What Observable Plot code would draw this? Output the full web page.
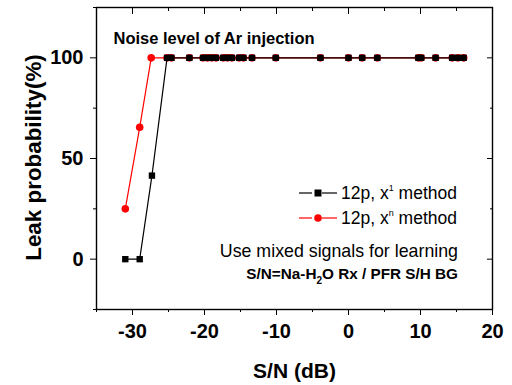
<!DOCTYPE html>
<html>
<head>
<meta charset="utf-8">
<script src="https://cdn.jsdelivr.net/npm/d3@7"></script>
<script src="https://cdn.jsdelivr.net/npm/@observablehq/plot@0.6"></script>
<style>
  html, body { margin: 0; padding: 0; background: #fff; }
  #wrap { position: relative; width: 512px; height: 385px; font-family: "Liberation Sans", Arial, sans-serif; }
  #wrap svg { display: block; }
  .ov { position: absolute; white-space: nowrap; color: #000; line-height: 1; }
</style>
</head>
<body>
<div id="wrap"></div>
<script>
// ---- data ----
const xBlack = [-31, -29, -27.3, -25.2, -24.6, -22.1, -20.2, -19.6, -19.0, -18.4, -17.4, -16.8, -16.2, -15.2, -14.6, -13.4, -10.1, -3.9, 0, 1.9, 4, 9.7, 10.1, 12.1, 14.4, 15.2, 16.0];
const yBlack = [0, 0, 41.5, 100, 100, 100, 100, 100, 100, 100, 100, 100, 100, 100, 100, 100, 100, 100, 100, 100, 100, 100, 100, 100, 100, 100, 100];
const xRed = [-31, -29, -27.4, -25.2, -24.6, -22.1, -20.2, -19.6, -19.0, -18.4, -17.4, -16.8, -16.2, -15.2, -14.6, -13.4, -10.1, -3.9, 0, 1.9, 4, 9.7, 10.1, 12.1, 14.4, 15.2, 16.0];
const yRed = [25, 65.5, 100, 100, 100, 100, 100, 100, 100, 100, 100, 100, 100, 100, 100, 100, 100, 100, 100, 100, 100, 100, 100, 100, 100, 100, 100];
const xMajor = [-30, -20, -10, 0, 10, 20];
const xMinor = [-35, -25, -15, -5, 5, 15];
const yMajor = [0, 50, 100];
const yMinor = [-25, 25, 75, 125];
const seriesNames = ["12p, x", "12p, x"];
const seriesSup = ["1", "n"];
const titleText = "Noise level of Ar injection";
const note1 = "Use mixed signals for learning";

const black = xBlack.map((x, i) => ({x, y: yBlack[i]}));
const red = xRed.map((x, i) => ({x, y: yRed[i]}));

const font = '"Liberation Sans", Arial, sans-serif';

const chart = Plot.plot({
  width: 512,
  height: 385,
  marginLeft: 96,
  marginRight: 20,
  marginTop: 7,
  marginBottom: 76,
  style: {fontFamily: font, background: "#fff", color: "#000", overflow: "visible"},
  x: {domain: [-35, 20]},
  y: {domain: [-25, 125]},
  marks: [
    Plot.line(red, {x: "x", y: "y", stroke: "#ff0000", strokeWidth: 1.2}),
    Plot.dot(red, {x: "x", y: "y", r: 3.8, fill: "#ff0000", stroke: "none"}),
    Plot.line(black, {x: "x", y: "y", stroke: "#000", strokeWidth: 1.2}),
    Plot.dot(black, {x: "x", y: "y", symbol: "square", r: 3.6, fill: "#000", stroke: "none"}),
    // bottom axis
    Plot.axisX({anchor: "bottom", ticks: xMajor, tickSize: 6, tickPadding: 8, label: null,
      fontSize: 20, fontWeight: "bold", tickFormat: d => String(d)}),
    Plot.axisX({anchor: "bottom", ticks: xMinor, tickSize: 3, tickFormat: () => "", label: null}),
    Plot.axisX({anchor: "top", ticks: xMajor, tickSize: -6, tickFormat: () => "", label: null}),
    Plot.axisX({anchor: "top", ticks: xMinor, tickSize: -3, tickFormat: () => "", label: null}),
    // left axis
    Plot.axisY({anchor: "left", ticks: yMajor, tickSize: 6, tickPadding: 7, label: null,
      fontSize: 20, fontWeight: "bold", tickFormat: d => String(d)}),
    Plot.axisY({anchor: "left", ticks: yMinor, tickSize: 3, tickFormat: () => "", label: null}),
    Plot.axisY({anchor: "right", ticks: yMajor, tickSize: -6, tickFormat: () => "", label: null}),
    Plot.axisY({anchor: "right", ticks: yMinor, tickSize: -3, tickFormat: () => "", label: null}),
    Plot.frame({stroke: "#000", strokeWidth: 1.4}),
    Plot.text([titleText], {frameAnchor: "top-left", dx: 17, dy: 25, text: d => d, fontSize: 16.5, fontWeight: "bold", textAnchor: "start"}),
    Plot.text(["S/N (dB)"], {frameAnchor: "bottom", dy: 68, text: d => d, fontSize: 21, fontWeight: "bold"}),
    Plot.text(["Leak probability(%)"], {frameAnchor: "left", textAnchor: "middle", dx: -63, dy: -1, rotate: -90, text: d => d, fontSize: 22.4, fontWeight: "bold"})
  ]
});

const wrap = document.getElementById("wrap");
wrap.appendChild(chart);

// legend overlay
const legendTop = [185, 210];
const colors = ["#000", "#ff0000"];
const sym = ["square", "circle"];
legendTop.forEach((top, i) => {
  const s = document.createElementNS("http://www.w3.org/2000/svg", "svg");
  s.setAttribute("width", 40); s.setAttribute("height", 16);
  s.style.position = "absolute"; s.style.left = "298px"; s.style.top = top + "px";
  s.innerHTML = `<line x1="1" x2="14" y1="8" y2="8" stroke="${colors[i]}" stroke-width="1.2"/>` +
    `<line x1="24" x2="39" y1="8" y2="8" stroke="${colors[i]}" stroke-width="1.2"/>` +
    (sym[i] === "square" ? `<rect x="16.5" y="4.5" width="7" height="7" fill="${colors[i]}"/>`
                          : `<circle cx="20" cy="8" r="3.8" fill="${colors[i]}"/>`);
  wrap.appendChild(s);
  const t = document.createElement("div");
  t.className = "ov";
  t.style.left = "341px"; t.style.top = (top - 1) + "px"; t.style.fontSize = "17.5px";
  t.innerHTML = `${seriesNames[i]}<sup style="font-size:9px;vertical-align:8px">${seriesSup[i]}</sup> method`;
  wrap.appendChild(t);
});
const n1 = document.createElement("div");
n1.className = "ov"; n1.style.right = "54px"; n1.style.top = "243px"; n1.style.fontSize = "17.8px";
n1.textContent = note1;
wrap.appendChild(n1);
const n2 = document.createElement("div");
n2.className = "ov"; n2.style.right = "54px"; n2.style.top = "266px"; n2.style.fontSize = "15.3px"; n2.style.fontWeight = "bold";
n2.innerHTML = 'S/N=Na-H<sub style="font-size:10px;vertical-align:-5px">2</sub>O Rx / PFR S/H BG';
wrap.appendChild(n2);
</script>
</body>
</html>
